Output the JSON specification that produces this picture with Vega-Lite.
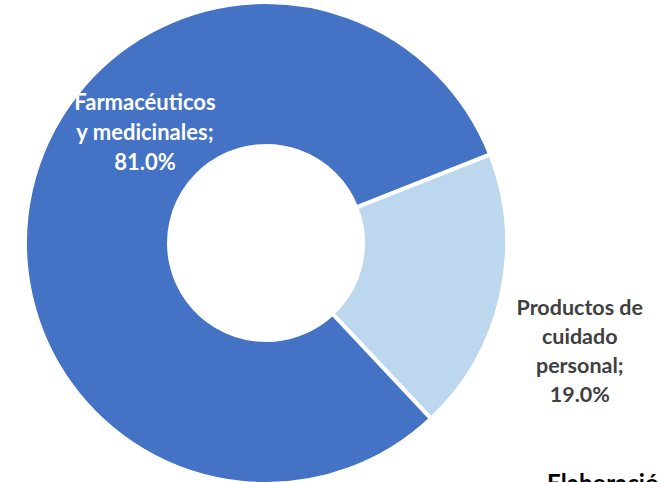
{
  "$schema": "https://vega.github.io/schema/vega-lite/v6.json",
  "width": 532,
  "height": 486,
  "autosize": {"type": "none"},
  "padding": {"left": 0, "top": 0, "right": 127, "bottom": 0},
  "background": "white",
  "view": {"stroke": null},
  "title": {
    "text": "Elaboración propia",
    "orient": "bottom",
    "anchor": "start",
    "frame": "group",
    "dx": 547,
    "offset": -19,
    "font": "Lato",
    "fontSize": 24,
    "fontWeight": "bold",
    "color": "#000000"
  },
  "data": {
    "values": [
      {"cat": "Productos de cuidado personal", "label": "Productos de\ncuidado\npersonal;\n19.0%", "value": 19.0, "orden": 1},
      {"cat": "Farmacéuticos y medicinales", "label": "Farmacéuticos\ny medicinales;\n81.0%", "value": 81.0, "orden": 2}
    ]
  },
  "encoding": {
    "theta": {"field": "value", "type": "quantitative", "stack": true, "scale": {"range": [1.19381, 7.47699]}},
    "order": {"field": "orden", "type": "quantitative"}
  },
  "layer": [
    {
      "mark": {"type": "arc", "outerRadius": 241, "innerRadius": 97, "stroke": "white", "strokeWidth": 4},
      "encoding": {
        "color": {
          "field": "cat",
          "type": "nominal",
          "scale": {"domain": ["Productos de cuidado personal", "Farmacéuticos y medicinales"], "range": ["#BDD7EE", "#4472C4"]},
          "legend": null
        }
      }
    },
    {
      "mark": {"type": "text", "radius": 165, "dx": 40, "dy": -104, "font": "Lato", "fontSize": 22, "fontWeight": "bold", "color": "white", "align": "center", "baseline": "middle", "lineBreak": "\n", "lineHeight": 30},
      "encoding": {
        "text": {"condition": {"test": "datum.cat === 'Farmacéuticos y medicinales'", "field": "label"}, "value": ""}
      }
    },
    {
      "mark": {"type": "text", "radius": 300, "dx": 21, "dy": 1, "font": "Lato", "fontSize": 21.5, "fontWeight": "bold", "color": "#404040", "align": "center", "baseline": "middle", "lineBreak": "\n", "lineHeight": 29},
      "encoding": {
        "text": {"condition": {"test": "datum.cat === 'Productos de cuidado personal'", "field": "label"}, "value": ""}
      }
    }
  ]
}
